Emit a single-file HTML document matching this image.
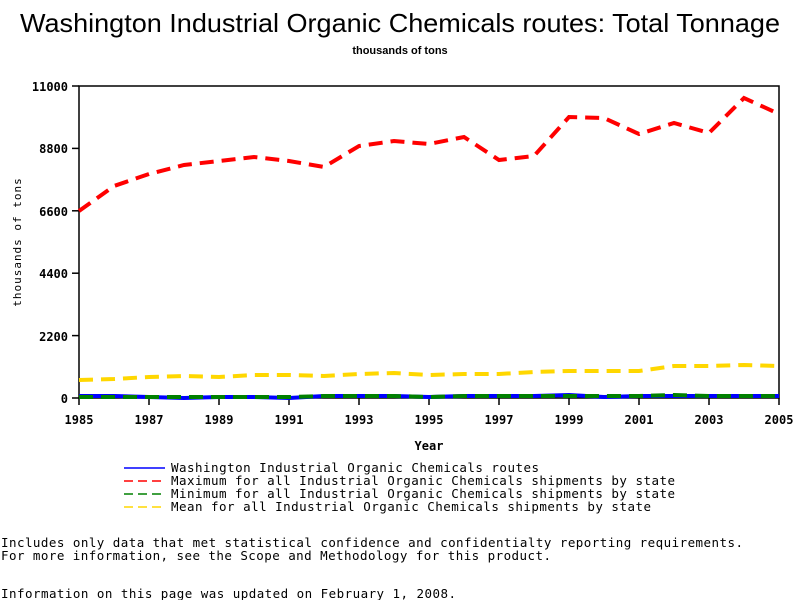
<!DOCTYPE html>
<html><head><style>
body{margin:0;background:#fff;width:800px;height:600px;overflow:hidden}
svg{display:block}
text{font-family:"DejaVu Sans Mono","Liberation Mono",monospace}
.b{font-weight:bold}
</style></head><body>
<svg width="800" height="600" viewBox="0 0 800 600">
<text x="20" y="32" textLength="760" lengthAdjust="spacingAndGlyphs" style="font-family:'Liberation Sans',sans-serif" font-size="26">Washington Industrial Organic Chemicals routes: Total Tonnage</text>
<text x="400" y="54" text-anchor="middle" font-size="11" class="b" style="font-family:'Liberation Sans',sans-serif">thousands of tons</text>
<rect x="79" y="86" width="700" height="312" fill="none" stroke="#000" stroke-width="1.5"/>
<g stroke="#000" stroke-width="1.5">
<line x1="72" y1="86" x2="79" y2="86"/><line x1="72" y1="148.4" x2="79" y2="148.4"/><line x1="72" y1="210.8" x2="79" y2="210.8"/><line x1="72" y1="273.2" x2="79" y2="273.2"/><line x1="72" y1="335.6" x2="79" y2="335.6"/><line x1="72" y1="398" x2="79" y2="398"/>
<line x1="79" y1="398" x2="79" y2="405"/><line x1="149" y1="398" x2="149" y2="405"/><line x1="219" y1="398" x2="219" y2="405"/><line x1="289" y1="398" x2="289" y2="405"/><line x1="359" y1="398" x2="359" y2="405"/><line x1="429" y1="398" x2="429" y2="405"/><line x1="499" y1="398" x2="499" y2="405"/><line x1="569" y1="398" x2="569" y2="405"/><line x1="639" y1="398" x2="639" y2="405"/><line x1="709" y1="398" x2="709" y2="405"/><line x1="779" y1="398" x2="779" y2="405"/>
</g>
<g font-size="12" text-anchor="end" class="b">
<text x="68" y="91">11000</text><text x="68" y="153">8800</text><text x="68" y="216">6600</text><text x="68" y="278">4400</text><text x="68" y="341">2200</text><text x="68" y="403">0</text>
</g>
<g font-size="12" text-anchor="middle" class="b">
<text x="79" y="424">1985</text><text x="149" y="424">1987</text><text x="219" y="424">1989</text><text x="289" y="424">1991</text><text x="359" y="424">1993</text><text x="429" y="424">1995</text><text x="499" y="424">1997</text><text x="569" y="424">1999</text><text x="639" y="424">2001</text><text x="709" y="424">2003</text><text x="779" y="424">2005</text>
</g>
<text x="429" y="450" font-size="12" text-anchor="middle" class="b">Year</text>
<text transform="translate(21,242) rotate(-90)" font-size="11" text-anchor="middle" letter-spacing="1">thousands of tons</text>
<g fill="none" stroke-width="4">
<polyline stroke="#ffd700" stroke-dasharray="14,8" points="79,380 114,379 149,377 184,376 219,377 254,375 289,375 324,376 359,374 394,373 429,375 464,374 499,374 534,372 569,371 604,371 639,371 674,366 709,366 744,365 779,366"/>
<polyline stroke="#ff0000" stroke-dasharray="14,8" points="79,211 114,186 149,174 184,165 219,161 254,157 289,161 324,167 359,146 394,141 429,144 464,137 499,160 534,156 569,117 604,118 639,134 674,123 709,133 744,98 779,114"/>
<polyline stroke="#0000ff" points="79,396 114,396 149,397 184,398 219,397 254,397 289,398 324,396 359,396 394,396 429,397 464,396 499,396 534,396 569,395 604,397 639,396 674,396 709,396 744,396 779,396"/>
<polyline stroke="#008000" stroke-dasharray="14,8" points="79,397 114,397 149,397 184,397 219,397 254,397 289,397 324,396 359,396 394,396 429,397 464,396 499,396 534,396 569,396 604,396 639,396 674,395 709,396 744,396 779,396"/>
</g>
<g stroke-width="1.5">
<line x1="124" y1="468" x2="165" y2="468" stroke="#0000ff"/>
<line x1="124" y1="481" x2="165" y2="481" stroke="#ff0000" stroke-dasharray="9,5"/>
<line x1="124" y1="494" x2="165" y2="494" stroke="#008000" stroke-dasharray="9,5"/>
<line x1="124" y1="507" x2="165" y2="507" stroke="#ffd700" stroke-dasharray="9,5"/>
</g>
<g font-size="12.5">
<text x="171" y="472" textLength="368" lengthAdjust="spacing">Washington Industrial Organic Chemicals routes</text>
<text x="171" y="485" textLength="504" lengthAdjust="spacing">Maximum for all Industrial Organic Chemicals shipments by state</text>
<text x="171" y="498" textLength="504" lengthAdjust="spacing">Minimum for all Industrial Organic Chemicals shipments by state</text>
<text x="171" y="511" textLength="480" lengthAdjust="spacing">Mean for all Industrial Organic Chemicals shipments by state</text>
<text x="1" y="547" textLength="742" lengthAdjust="spacing">Includes only data that met statistical confidence and confidentialty reporting requirements.</text>
<text x="1" y="560" textLength="550" lengthAdjust="spacing">For more information, see the Scope and Methodology for this product.</text>
<text x="1" y="598" textLength="455" lengthAdjust="spacing">Information on this page was updated on February 1, 2008.</text>
</g>
</svg>
</body></html>
